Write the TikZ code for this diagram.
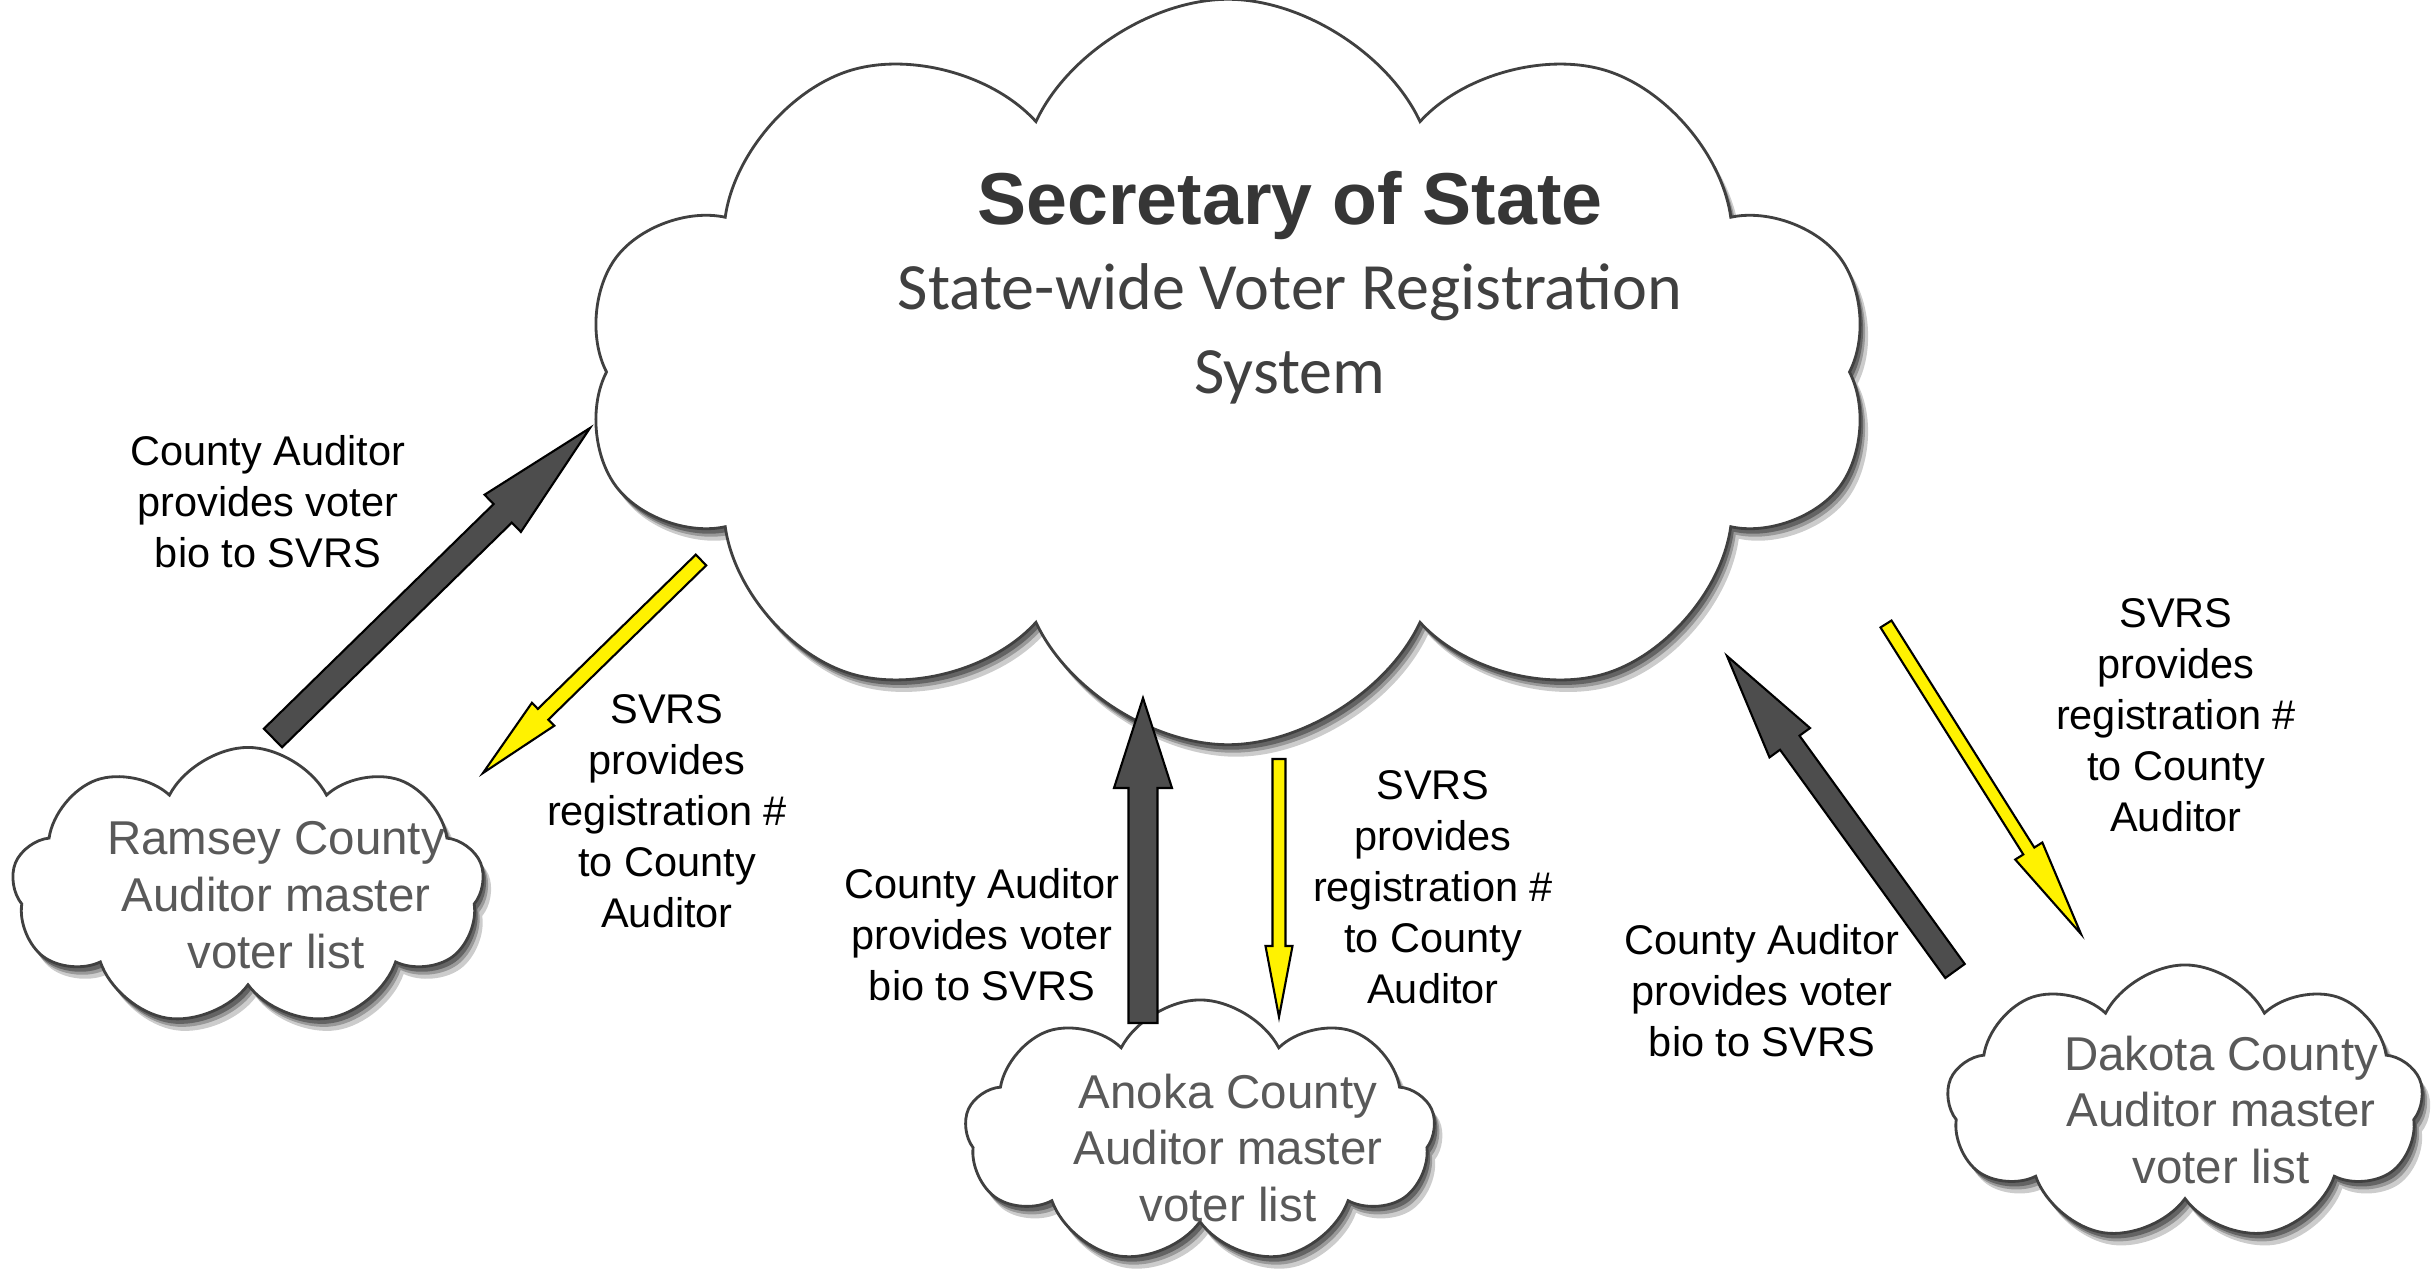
\documentclass[tikz,border=0pt]{standalone}
\usepackage{fontspec}
\setmainfont{Liberation Sans}
\newfontfamily\calibri{Carlito}
\usepackage{tikz}
\usetikzlibrary{shapes.symbols,shadows,calc}

\definecolor{pfeilgrau}{HTML}{4D4D4D}
\definecolor{textgrau}{HTML}{595959}
\definecolor{titelgrau}{HTML}{363636}

\tikzset{
  wolke/.style={cloud, cloud puffs=9, cloud puff arc=125, cloud ignores aspect,
    draw=black!75, line width=0.8pt, fill=white,
    preaction={fill=black, opacity=0.2, transform canvas={xshift=0.08cm, yshift=-0.12cm}},
    preaction={fill=black, opacity=0.25, transform canvas={xshift=0.05cm, yshift=-0.08cm}},
    preaction={fill=black, opacity=0.35, transform canvas={xshift=0.03cm, yshift=-0.05cm}}},
  wolkentext/.style={align=center, text=textgrau, font=\fontsize{13.5pt}{16.2pt}\selectfont},
  notiz/.style={align=center, font=\fontsize{11.8pt}{14.5pt}\selectfont},
  biopfeil/.style={draw=black, line width=0.6pt, fill=pfeilgrau},
  nrpfeil/.style={draw=black, line width=0.6pt, fill=yellow},
}

% Blockpfeil: von, nach, halbe Schaftbreite, halbe Kopfbreite, Kopflaenge, Stil
\newcommand{\blockpfeil}[6]{%
  \coordinate (#2-kopf) at ($(#2)!#5!(#1)$);
  \draw[#6] ($(#1)!#3!-90:(#2)$) -- ($(#2-kopf)!#3!-90:(#2)$)
    -- ($(#2-kopf)!#4!-90:(#2)$) -- (#2) -- ($(#2-kopf)!#4!90:(#2)$)
    -- ($(#2-kopf)!#3!90:(#2)$) -- ($(#1)!#3!90:(#2)$) -- cycle;
}

\begin{document}
\begin{tikzpicture}[x=0.01cm, y=-0.01cm]
\useasboundingbox (0,0) rectangle (2432,1270);

% Wolken
\node[wolke, cloud puffs=10, cloud puff arc=130, minimum width=12.85cm, minimum height=7.45cm] (sos) at (1228,372) {};
\node[wolke, minimum width=4.72cm, minimum height=2.79cm] (ramsey) at (248,887) {};
\node[wolke, minimum width=4.70cm, minimum height=2.64cm] (anoka) at (1200,1132) {};
\node[wolke, minimum width=4.76cm, minimum height=2.76cm] (dakota) at (2185,1103) {};

% Texte in den Wolken
\node[text=titelgrau, font=\fontsize{20.9pt}{25pt}\selectfont\bfseries] (sos-titel) at (1290,206) {Secretary of State};
\node[align=center, text=black!75, font=\calibri\fontsize{18.8pt}{23.9pt}\selectfont] (sos-text) at (1290,334) {State-wide Voter Registration\\System};
\node[wolkentext] (ramsey-text) at (276,895) {Ramsey County\\Auditor master\\voter list};
\node[wolkentext] (anoka-text) at (1228,1148) {Anoka County\\Auditor master\\voter list};
\node[wolkentext] (dakota-text) at (2221,1110) {Dakota County\\Auditor master\\voter list};

% Pfeilenden
\coordinate (rd-a) at (273,738);
\coordinate (rd-b) at (590,428);
\coordinate (ry-a) at (701,560);
\coordinate (ry-b) at (483,773);
\coordinate (ad-a) at (1143,1023);
\coordinate (ad-b) at (1143,698);
\coordinate (ay-a) at (1279,759);
\coordinate (ay-b) at (1279,1017);
\coordinate (dd-a) at (1955,971);
\coordinate (dd-b) at (1727,656);
\coordinate (dy-a) at (1886,624);
\coordinate (dy-b) at (2081,934);

% Pfeile
\blockpfeil{rd-a}{rd-b}{0.13cm}{0.26cm}{1.22cm}{biopfeil}
\blockpfeil{ry-a}{ry-b}{0.075cm}{0.16cm}{0.84cm}{nrpfeil}
\blockpfeil{ad-a}{ad-b}{0.145cm}{0.29cm}{0.9cm}{biopfeil}
\blockpfeil{ay-a}{ay-b}{0.065cm}{0.135cm}{0.71cm}{nrpfeil}
\blockpfeil{dd-a}{dd-b}{0.12cm}{0.25cm}{1.07cm}{biopfeil}
\blockpfeil{dy-a}{dy-b}{0.065cm}{0.16cm}{0.98cm}{nrpfeil}

% Beschriftungen
\node[notiz] (rd-text) at (268,502) {County Auditor\\provides voter\\bio to SVRS};
\node[notiz] (ry-text) at (667,811) {SVRS\\provides\\registration \#\\to County\\Auditor};
\node[notiz] (ad-text) at (982,935) {County Auditor\\provides voter\\bio to SVRS};
\node[notiz] (ay-text) at (1433,887) {SVRS\\provides\\registration \#\\to County\\Auditor};
\node[notiz] (dd-text) at (1762,991) {County Auditor\\provides voter\\bio to SVRS};
\node[notiz] (dy-text) at (2176,715) {SVRS\\provides\\registration \#\\to County\\Auditor};
\end{tikzpicture}
\end{document}
